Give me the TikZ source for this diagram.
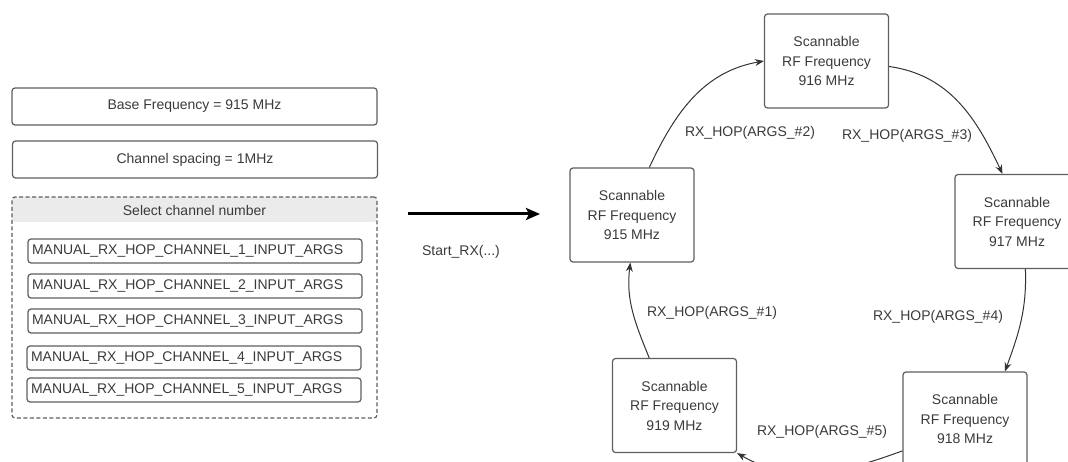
\documentclass[tikz,border=0pt]{standalone}
\usepackage{fontspec}
\setmainfont{Liberation Sans}
\usepackage{tikz}
\usetikzlibrary{arrows.meta,positioning}
\definecolor{BoxLine}{HTML}{5E5E5E}
\definecolor{TextGray}{HTML}{3A3A3A}
\definecolor{HeadGray}{HTML}{EBEBEB}
\definecolor{ArrowDark}{HTML}{333333}

\begin{document}
\begin{tikzpicture}[
    x=1pt,y=1pt,
    every node/.style={font=\fontsize{14}{19.5}\selectfont,text=TextGray},
    param/.style={draw=BoxLine,line width=1.2pt,rounded corners=3pt,minimum width=365pt,minimum height=37pt,inner sep=0pt},
    chbox/.style={draw=BoxLine,line width=1.2pt,rounded corners=3pt,minimum width=334pt,minimum height=24pt,inner sep=0pt,text width=326pt,align=left},
    group/.style={draw=BoxLine,line width=1.2pt,dashed,dash pattern=on 4pt off 2.5pt,rounded corners=3pt,minimum width=365pt,minimum height=221pt,inner sep=0pt},
    freq/.style={draw=BoxLine,line width=1.2pt,rounded corners=3pt,minimum width=124pt,minimum height=94pt,align=center,inner sep=0pt},
    hop/.style={-{Stealth[length=9pt,width=7pt]},ArrowDark,line width=1pt},
    start/.style={-{Stealth[length=14pt,width=12pt,inset=3pt]},black,line width=3pt}
  ]
    \clip (0,0) rectangle (1068,461);
    % left column
    \node[param] (base) at (194.5,354.5) {Base Frequency = 915 MHz};
    \node[param] (spacing) at (195,301.5) {Channel spacing = 1MHz};
    \node[group,path picture={\fill[HeadGray] (path picture bounding box.north west) rectangle ([yshift=-25pt]path picture bounding box.north east);}] (chsel) at (194.5,153.5) {};
    \node (chhead) at (194.5,251) {Select channel number};
    \node[chbox] (ch1) at (195,210) {MANUAL\_RX\_HOP\_CHANNEL\_1\_INPUT\_ARGS};
    \node[chbox] (ch2) at (195,175) {MANUAL\_RX\_HOP\_CHANNEL\_2\_INPUT\_ARGS};
    \node[chbox] (ch3) at (195,140) {MANUAL\_RX\_HOP\_CHANNEL\_3\_INPUT\_ARGS};
    \node[chbox] (ch4) at (194,103) {MANUAL\_RX\_HOP\_CHANNEL\_4\_INPUT\_ARGS};
    \node[chbox] (ch5) at (194,71) {MANUAL\_RX\_HOP\_CHANNEL\_5\_INPUT\_ARGS};
    % start arrow
    \coordinate (startL) at (408,247);
    \coordinate (startR) at (540,247);
    \draw[start] (startL) -- (startR);
    \node (startlbl) at (461,209) {Start\_RX(...)};
    % hop ring
    \node[freq] (f915) at (632,246) {Scannable\\RF Frequency\\915 MHz};
    \node[freq] (f916) at (826.5,400) {Scannable\\RF Frequency\\916 MHz};
    \node[freq] (f917) at (1017,239.5) {Scannable\\RF Frequency\\917 MHz};
    \node[freq] (f918) at (965,42) {Scannable\\RF Frequency\\918 MHz};
    \node[freq] (f919) at (674.5,55.5) {Scannable\\RF Frequency\\919 MHz};
    \draw[hop] (f915.70) to[out=65,in=190] (f916.west);
    \draw[hop] (f916.-5) to[out=-8,in=115] (f917.107);
    \draw[hop] (f917.-80) to[out=-88,in=70] (f918.50);
    \draw[hop] (f918.207) to[out=200,in=-30] (f919.south east);
    \draw[hop] (f919.118) to[out=112,in=-97] (f915.-92);
    \node (hop1) at (712,148) {RX\_HOP(ARGS\_\#1)};
    \node (hop2) at (750,328) {RX\_HOP(ARGS\_\#2)};
    \node (hop3) at (907,325) {RX\_HOP(ARGS\_\#3)};
    \node (hop4) at (938,144) {RX\_HOP(ARGS\_\#4)};
    \node (hop5) at (822,29) {RX\_HOP(ARGS\_\#5)};
  \end{tikzpicture}
\end{document}
